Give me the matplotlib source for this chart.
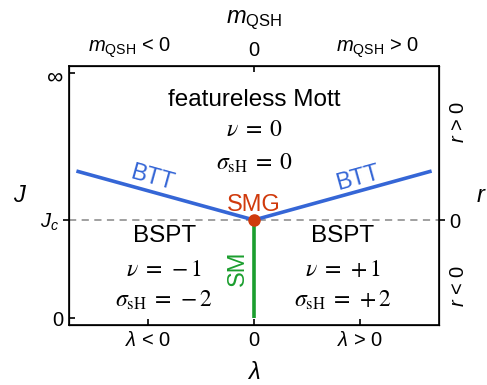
import matplotlib
matplotlib.use('Agg')
import matplotlib.pyplot as plt

plt.rcParams['font.family'] = ['Liberation Sans', 'DejaVu Sans']
plt.rcParams['mathtext.fontset'] = 'custom'
plt.rcParams['mathtext.rm'] = 'Liberation Sans'
plt.rcParams['mathtext.it'] = 'Liberation Sans:italic'
plt.rcParams['mathtext.bf'] = 'Liberation Sans:bold'

# phase boundaries (lambda, J) with J scaled 0 .. 1 (1 = infinity)
Jc = 0.4
btt_lam = [-0.96, 0.0, 0.96]
btt_J = [0.6, Jc, 0.6]
sm_lam = [0.0, 0.0]
sm_J = [0.0, Jc]

# tick labels
bottom_ticks = [-0.573, 0.0, 0.573]
bottom_labels = [r'$\lambda$ < 0', '0', r'$\lambda$ > 0']
top_ticks = [-0.67, 0.0, 0.67]
top_labels = [r'$m_{\mathrm{QSH}}$ < 0', '0', r'$m_{\mathrm{QSH}}$ > 0']
left_ticks = [0.0, 1.0]
left_labels = ['0', r'$\infty$']
right_ticks = [0.13, Jc, 0.8]
right_labels = [r'$r$ < 0', '0', r'$r$ > 0']

# phase labels: (lambda, J title, J nu, J sigma, title, nu, sigma)
phases = [
    (0.0, 0.89, 0.767, 0.633, 'featureless Mott', r'$\nu\;=\;0$', r'$\sigma_{\mathrm{sH}}\;=\;0$'),
    (-0.486, 0.335, 0.196, 0.073, 'BSPT', r'$\nu\;=\,-1$', r'$\sigma_{\mathrm{sH}}\;=\,-2$'),
    (0.481, 0.335, 0.196, 0.073, 'BSPT', r'$\nu\;=\,+1$', r'$\sigma_{\mathrm{sH}}\;=\,+2$'),
]

blue = '#3566d6'
red = '#d03a0c'
green = '#1b9e2e'

fig = plt.figure(figsize=(4.87, 3.85), dpi=100)
ax = fig.add_axes([0.1417, 0.1558, 0.7598, 0.6727])
xlim = (-1, 1)
ylim = (-0.0286, 1.0286)

ax.axhline(Jc, color='#999999', lw=1.3, ls=(0, (4, 3)), zorder=1)
ax.plot(btt_lam, btt_J, color=blue, lw=2.6, solid_capstyle='butt', zorder=2)
ax.plot(sm_lam, sm_J, color=green, lw=2.6, solid_capstyle='butt', zorder=2)
ax.plot([0], [Jc], 'o', color=red, ms=8, zorder=3)

for x, yt, yn, ys, title, nu, sig in phases:
    ax.text(x, yt, title, ha='center', va='center', fontsize=17.5)
    ax.text(x, yn, nu, ha='center', va='center', fontsize=17, math_fontfamily='stix')
    ax.text(x, ys, sig, ha='center', va='center', fontsize=17, math_fontfamily='stix')

ax.text(-0.55, 0.57, 'BTT', color=blue, fontsize=17, ha='center', va='center', rotation=-15.5)
ax.text(0.56, 0.57, 'BTT', color=blue, fontsize=17, ha='center', va='center', rotation=15.5)
ax.text(0.0, 0.462, 'SMG', color=red, fontsize=17, ha='center', va='center')
ax.text(-0.085, 0.205, 'SM', color=green, fontsize=17, ha='center', va='center', rotation=90)

ax.set_xlim(*xlim)
ax.set_ylim(*ylim)
for s in ax.spines.values():
    s.set_linewidth(1.2)

ax.set_xticks(bottom_ticks)
ax.set_xticklabels(bottom_labels, fontsize=14.5)
ax.set_yticks(left_ticks)
ax.set_yticklabels(left_labels, fontsize=14.5)
ax.get_yticklabels()[1].set_fontsize(16.5)
ax.set_yticks([Jc], minor=True)
ax.set_yticklabels([r'$J_c$'], minor=True, fontsize=14.5)
ax.tick_params(axis='both', which='major', direction='in', length=4, width=1.2, pad=4)
ax.tick_params(axis='y', which='minor', direction='out', length=4, width=1.2, pad=3)
for t, v in zip(ax.xaxis.get_major_ticks(), bottom_ticks):
    if v != 0:
        t.tick1line.set_visible(False)
ax.set_xlabel(r'$\lambda$', fontsize=17, va='center')
ax.xaxis.set_label_coords(0.5, -0.185)
ax.set_ylabel(r'$J$', fontsize=17, rotation=0, va='center')
ax.yaxis.set_label_coords(-0.132, 0.498)

axt = ax.twiny()
axt.set_xlim(*xlim)
axt.set_xticks(top_ticks)
axt.set_xticklabels(top_labels, fontsize=14.5)
axt.tick_params(axis='x', direction='in', length=4, width=1.2, pad=4)
for t, v in zip(axt.xaxis.get_major_ticks(), top_ticks):
    if v != 0:
        t.tick2line.set_visible(False)
axt.set_xlabel(r'$m_{\mathrm{QSH}}$', fontsize=17, va='center')
axt.xaxis.set_label_coords(0.5, 1.178)

axr = ax.twinx()
axr.set_ylim(*ylim)
axr.set_yticks(right_ticks)
axr.set_yticklabels(right_labels, fontsize=14.5)
axr.tick_params(axis='y', direction='out', length=4, width=1.2, pad=3)
for t, v in zip(axr.yaxis.get_major_ticks(), right_ticks):
    if v != Jc:
        t.tick2line.set_visible(False)
        t.label2.set_rotation(90)
        t.label2.set_va('center')
axr.set_ylabel(r'$r$', fontsize=17, rotation=0, va='center')
axr.yaxis.set_label_coords(1.115, 0.498)

fig.savefig('out.png', dpi=100)
